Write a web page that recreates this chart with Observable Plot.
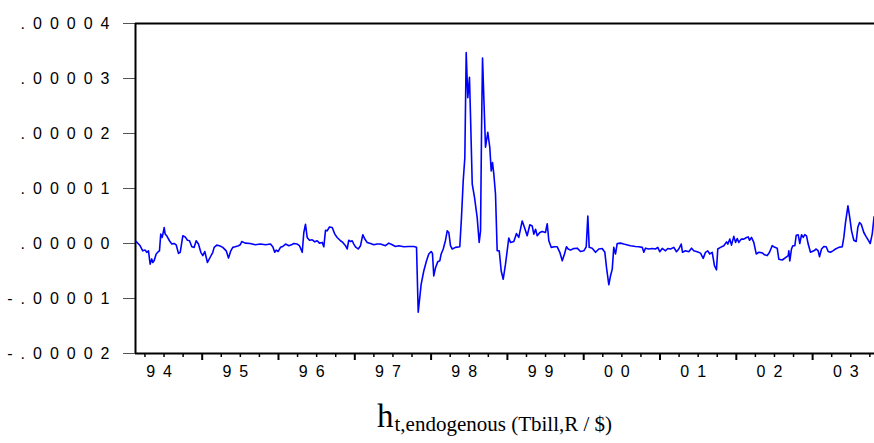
<!DOCTYPE html>
<html><head><meta charset="utf-8">
<script src="https://cdn.jsdelivr.net/npm/d3@7"></script>
<script src="https://cdn.jsdelivr.net/npm/@observablehq/plot@0.6"></script>
<style>
body{margin:0;background:#fff;}
#wrap{position:relative;width:874px;height:443px;overflow:hidden;background:#fff;}
#caption{position:absolute;left:377px;top:400px;font-family:"Liberation Serif","Times New Roman",serif;white-space:nowrap;color:#000;line-height:1;}
#caption .h{font-size:33px;}
#caption .sub{font-size:21px;position:relative;top:4px;margin-left:1px;}
</style></head><body>
<div id="wrap"><div id="chart"></div><div id="caption"><span class="h">h</span><span class="sub">t,endogenous (Tbill,R / $)</span></div></div>
<script>
// decimal years (weekly series, sampled at visible turning points)
const years = [
1994.135,1994.187,1994.221,1994.253,1994.274,1994.296,1994.318,1994.339,1994.353,1994.371,1994.397,1994.427,1994.440,1994.457,1994.476,1994.502,1994.515,1994.536,1994.571,1994.602,1994.633,1994.659,1994.689,1994.712,1994.746,1994.777,1994.807,1994.834,1994.864,1994.895,1994.921,1994.951,1994.982,
1995.008,1995.034,1995.069,1995.105,1995.139,1995.157,1995.191,1995.227,1995.270,1995.315,1995.345,1995.375,1995.401,1995.432,1995.476,1995.498,1995.519,1995.564,1995.629,1995.695,1995.764,1995.830,1995.895,1995.925,1995.951,1995.970,1995.996,
1996.026,1996.056,1996.092,1996.135,1996.170,1996.200,1996.245,1996.275,1996.311,1996.332,1996.354,1996.376,1996.406,1996.442,1996.476,1996.507,1996.537,1996.573,1996.594,1996.616,1996.638,1996.668,1996.704,1996.738,1996.769,1996.813,1996.843,1996.878,1996.900,1996.921,1996.944,1996.966,1996.987,
1997.009,1997.045,1997.075,1997.105,1997.131,1997.163,1997.206,1997.249,1997.294,1997.337,1997.402,1997.446,1997.490,1997.533,1997.577,1997.642,1997.708,1997.773,1997.809,1997.831,1997.870,1997.904,1997.940,1997.970,
1998.001,1998.018,1998.035,1998.058,1998.088,1998.114,1998.132,1998.159,1998.189,1998.211,1998.232,1998.254,1998.277,1998.320,1998.376,1998.398,1998.421,1998.442,1998.460,1998.481,1998.503,1998.516,1998.539,1998.569,1998.604,1998.630,1998.648,1998.661,1998.674,1998.691,1998.713,1998.743,1998.769,1998.788,1998.805,1998.822,1998.844,1998.866,1998.893,1998.919,1998.945,1998.975,1998.997,
1999.018,1999.041,1999.084,1999.119,1999.149,1999.194,1999.224,1999.259,1999.294,1999.325,1999.346,1999.369,1999.391,1999.425,1999.456,1999.499,1999.522,1999.543,1999.574,1999.617,1999.653,1999.687,1999.719,1999.748,1999.774,1999.797,1999.827,1999.870,1999.915,1999.958,
2000.001,2000.033,2000.054,2000.072,2000.111,2000.155,2000.198,2000.242,2000.277,2000.299,2000.329,2000.351,2000.374,2000.394,2000.417,2000.439,2000.482,2000.525,2000.613,2000.679,2000.722,2000.767,2000.788,2000.810,2000.853,2000.898,2000.941,2000.971,2000.997,
2001.029,2001.072,2001.102,2001.138,2001.181,2001.216,2001.246,2001.278,2001.295,2001.334,2001.377,2001.413,2001.443,2001.487,2001.531,2001.566,2001.596,2001.626,2001.652,2001.684,2001.714,2001.740,2001.757,2001.793,2001.836,2001.872,2001.889,2001.915,2001.937,2001.967,2001.990,
2002.012,2002.033,2002.064,2002.098,2002.134,2002.156,2002.173,2002.199,2002.229,2002.261,2002.295,2002.340,2002.370,2002.405,2002.435,2002.470,2002.505,2002.536,2002.557,2002.602,2002.645,2002.680,2002.688,2002.701,2002.723,2002.740,2002.767,2002.785,2002.811,2002.832,2002.855,2002.877,2002.898,2002.920,2002.942,2002.972,
2003.016,2003.047,2003.073,2003.090,2003.117,2003.147,2003.178,2003.204,2003.234,2003.265,2003.300,2003.343,2003.388,2003.409,2003.431,2003.463,2003.487,2003.510,2003.540,2003.571,2003.592,2003.615,2003.637,2003.671,2003.703,2003.729,2003.755,2003.782,2003.805
];
// values in millionths (x 1e-6)
const values = [
0.36,-0.42,-1.33,-1.2,-1.6,-1.33,-3.75,-2.8,-3.45,-3.1,-1.9,-1.45,-1.33,1.7,1.1,2.9,1.7,1.4,0.5,-0.1,0,-0.24,-1.8,-1.6,1.4,1.2,0.6,0.5,-0.6,-0.7,0.5,-0.1,-1.6,
-2.2,-1.45,-3.45,-2.5,-1.6,-0.7,-0.3,-0.4,-0.7,-1.33,-2.65,-1.33,-0.7,-0.6,-0.4,-0.24,0.36,0.07,0,-0.24,-0.1,-0.24,-0.1,-0.6,-1.6,-1.2,-1.45,
-0.7,-0.55,-0.1,-0.4,-0.24,0,-0.1,-0.4,-1.6,2.0,3.5,1.1,0.6,0.67,0.3,0.5,0.07,0.2,-0.6,2.4,2.3,3.0,2.9,1.7,1.1,0.5,0.2,-0.4,-1.0,0.6,0.36,0.5,-0.1,
-0.6,-1.0,-0.4,1.6,0.8,0.2,0,-0.24,-0.1,-0.1,-0.4,0.07,-0.24,-0.55,-0.4,-0.6,-0.55,-0.55,-0.7,-12.5,-7.4,-5.0,-3.15,-1.9,
-1.45,-1.8,-5.9,-4.4,-3.3,-3.15,-1.9,-1.0,0.6,2.3,2.0,-0.4,-1.0,-0.7,-0.6,4.7,11.4,15.6,34.7,26.5,30.2,23.5,10.8,8.4,4.7,0.2,2.3,20.5,33.7,26.5,17.5,20.2,17.5,13.2,14.7,12.6,9.0,-1.33,-1.33,-5.0,-6.5,-3.75,-1.33,
1.0,0.2,0.36,1.8,1.1,4.1,2.9,1.4,3.4,3.2,1.7,2.6,1.4,2.0,2.2,2.0,3.6,0.5,-0.7,-0.6,-0.6,-1.6,-3.15,-1.9,-0.6,-1.0,-1.2,-0.9,-0.85,-1.45,
-1.33,-0.6,5.0,-0.7,-0.85,-1.6,-1.0,-0.9,-1.6,-4.4,-7.5,-5.9,-4.65,-0.7,-1.9,0,0.07,-0.1,-0.4,-0.55,-0.6,-0.7,-1.6,-0.85,-1.0,-0.9,-1.0,-0.7,-1.5,
-0.9,-1.33,-0.9,-1.0,-0.7,-1.5,-1.0,-0.1,-1.6,-1.33,-1.5,-0.85,-1.33,-1.5,-1.75,-2.7,-1.6,-1.33,-1.9,-1.6,-4.05,-4.8,-1.0,-0.7,-0.4,0.3,-0.1,0.8,-0.3,1.3,0.2,
0.9,0.2,0.8,0.8,1.1,1.2,0.6,1.1,0.2,-1.9,-1.6,-1.7,-2.05,-2.2,-1.6,-0.4,-0.7,-0.85,-2.85,-3.0,-2.55,-2.2,-1.33,-3.15,-1.0,-0.4,-0.4,1.5,1.6,0,1.6,1.1,1.6,1.4,-0.1,-1.6,
-1.33,-1.0,-1.33,-2.4,-1.0,-0.55,-0.6,-1.45,-1.6,-1.33,-1.0,-0.7,-0.6,1.1,3.8,6.85,4.7,2.3,0.6,0.36,2.9,3.8,3.5,2.0,1.2,0.6,0,1.8,4.85
];
const yTicks = [-20, -10, 0, 10, 20, 30, 40];
const yTickLabels = ["-.00002", "-.00001", ".00000", ".00001", ".00002", ".00003", ".00004"];
const yearTicks = [1995, 1996, 1997, 1998, 1999, 2000, 2001, 2002, 2003];
const yearLabelPos = [1994.5, 1995.5, 1996.5, 1997.5, 1998.5, 1999.5, 2000.5, 2001.5, 2002.5, 2003.5];
const yearLabels = ["94", "95", "96", "97", "98", "99", "00", "01", "02", "03"];
const quarterTicks = d3.range(1994.25, 2003.8, 0.25).filter(q => !Number.isInteger(q));

const xDomain = [1994.126, 2003.811];
const data = years.map((t, i) => ({t, v: values[i]}));

const chart = Plot.plot({
  width: 874, height: 395,
  marginLeft: 135, marginRight: 0, marginTop: 23, marginBottom: 42,
  style: {fontFamily: '"Liberation Sans", Arial, sans-serif', fontSize: "16px", letterSpacing: "8px", background: "white", color: "black"},
  x: {type: "linear", domain: xDomain, label: null},
  y: {domain: [-20, 40], label: null},
  marks: [
    Plot.axisY(yTicks, {tickSize: 12, tickPadding: 6, tickFormat: d => yTickLabels[yTicks.indexOf(d)], stroke: "#555", strokeWidth: 1, fill: "black", label: null}),
    Plot.axisX(quarterTicks, {tickSize: 4, tickFormat: () => "", stroke: "black", strokeWidth: 1.5, label: null}),
    Plot.axisX(yearTicks, {tickSize: 7, tickFormat: () => "", stroke: "black", strokeWidth: 2, label: null}),
    Plot.axisX(yearLabelPos, {tickSize: 0, tickPadding: 12.6, dx: -1, tickFormat: d => yearLabels[yearLabelPos.indexOf(d)], fill: "black", label: null}),
    Plot.ruleY([40], {stroke: "black", strokeWidth: 2}),
    Plot.ruleY([-20], {stroke: "black", strokeWidth: 2}),
    Plot.ruleX([xDomain[0]], {stroke: "black", strokeWidth: 2}),
    Plot.line(data, {x: "t", y: "v", stroke: "#0000ff", strokeWidth: 1.6})
  ]
});
document.getElementById("chart").appendChild(chart);
</script>
</body></html>
